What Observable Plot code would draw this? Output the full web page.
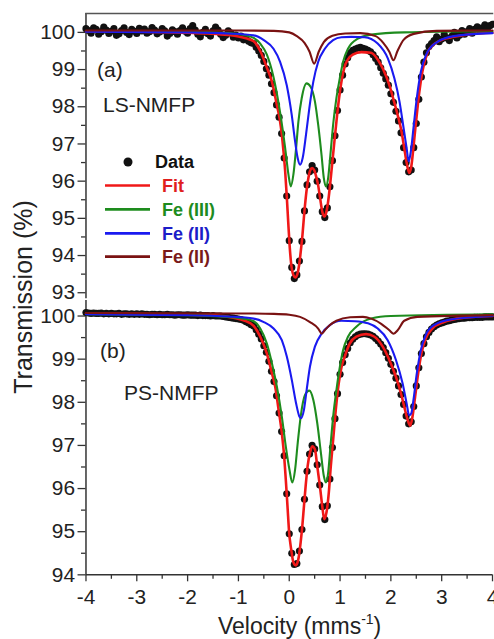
<!DOCTYPE html>
<html><head><meta charset="utf-8">
<script src="https://cdn.jsdelivr.net/npm/d3@7"></script>
<script src="https://cdn.jsdelivr.net/npm/@observablehq/plot@0.6"></script>
<style>
html,body{margin:0;padding:0;background:#fff;overflow:hidden;width:494px;height:639px;}
#wrap{position:relative;width:494px;height:639px;overflow:hidden;font-family:"Liberation Sans",Arial,sans-serif;}
#wrap svg{position:absolute;left:0;}
</style></head><body><div id="wrap"></div>
<script>
// ---------- data ----------
const velocity = [-4.00,-3.95,-3.90,-3.85,-3.80,-3.75,-3.70,-3.65,-3.60,-3.55,-3.50,-3.45,-3.40,-3.35,-3.30,-3.25,-3.20,-3.15,-3.10,-3.05,
-3.00,-2.95,-2.90,-2.85,-2.80,-2.75,-2.70,-2.65,-2.60,-2.55,-2.50,-2.45,-2.40,-2.35,-2.30,-2.25,-2.20,-2.15,-2.10,-2.05,
-2.00,-1.95,-1.90,-1.85,-1.80,-1.75,-1.70,-1.65,-1.60,-1.55,-1.50,-1.45,-1.40,-1.35,-1.30,-1.25,-1.20,-1.15,-1.10,-1.05,
-1.00,-0.95,-0.90,-0.85,-0.80,-0.75,-0.70,-0.65,-0.60,-0.55,-0.50,-0.45,-0.40,-0.35,-0.30,-0.25,-0.20,-0.15,-0.10,-0.05,
0.00,0.05,0.10,0.15,0.20,0.25,0.30,0.35,0.40,0.45,0.50,0.55,0.60,0.65,0.70,0.75,0.80,0.85,0.90,0.95,
1.00,1.05,1.10,1.15,1.20,1.25,1.30,1.35,1.40,1.45,1.50,1.55,1.60,1.65,1.70,1.75,1.80,1.85,1.90,1.95,
2.00,2.05,2.10,2.15,2.20,2.25,2.30,2.35,2.40,2.45,2.50,2.55,2.60,2.65,2.70,2.75,2.80,2.85,2.90,2.95,
3.00,3.05,3.10,3.15,3.20,3.25,3.30,3.35,3.40,3.45,3.50,3.55,3.60,3.65,3.70,3.75,3.80,3.85,3.90,3.95,4.00];

// (a) LS-NMFP measured transmission
const dataLS = [100.10,100.05,99.98,100.12,100.08,99.95,100.02,100.14,100.06,99.97,
100.03,100.10,99.92,99.96,100.05,100.12,100.00,99.94,100.08,100.03,
99.97,100.11,100.04,100.09,99.98,100.02,100.13,100.06,99.96,100.01,
100.10,100.04,99.90,99.97,100.07,100.02,99.95,100.05,100.12,100.03,
99.98,100.10,100.18,100.06,99.95,99.88,100.00,100.08,99.96,99.90,
100.04,100.14,100.06,99.95,99.86,99.92,100.04,99.98,99.87,99.93,
99.85,99.90,99.80,99.84,99.76,99.72,99.70,99.60,99.50,99.38,
99.22,99.02,98.85,98.62,98.38,98.05,97.72,97.28,96.62,95.60,
94.40,93.68,93.38,93.48,93.85,94.38,95.20,95.90,96.25,96.42,
96.30,96.00,95.60,95.18,95.02,95.28,95.85,96.55,97.22,97.90,
98.45,98.85,99.15,99.32,99.45,99.52,99.55,99.58,99.60,99.57,
99.55,99.52,99.48,99.40,99.30,99.20,99.05,98.90,98.75,98.58,
98.35,98.12,97.88,97.62,97.30,96.90,96.50,96.25,96.30,96.90,
97.55,98.20,98.80,99.20,99.45,99.62,99.70,99.78,99.88,99.75,
99.82,99.95,99.85,99.78,99.90,100.00,99.85,99.92,100.05,99.95,
100.02,100.10,99.98,100.08,100.15,100.05,100.12,100.20,100.10,100.18,100.22];

// (b) PS-NMFP measured transmission
const dataPS = [100.08,100.07,100.06,100.07,100.06,100.06,100.07,100.05,100.06,100.05,
100.06,100.05,100.05,100.06,100.04,100.05,100.05,100.04,100.05,100.04,
100.05,100.04,100.05,100.04,100.04,100.03,100.04,100.04,100.03,100.04,
100.03,100.03,100.04,100.03,100.03,100.02,100.03,100.03,100.02,100.02,
100.03,100.02,100.02,100.02,100.01,100.02,100.01,100.01,100.01,100.00,
100.01,100.00,100.00,100.00,99.99,99.98,99.97,99.96,99.95,99.94,
99.93,99.92,99.90,99.87,99.84,99.80,99.77,99.68,99.58,99.47,
99.31,99.16,98.95,98.72,98.48,98.15,97.75,97.32,96.76,95.88,
94.95,94.50,94.24,94.26,94.55,95.05,95.75,96.40,96.80,97.00,
96.92,96.55,96.08,95.58,95.28,95.60,96.22,96.95,97.62,98.20,
98.65,98.92,99.10,99.25,99.38,99.46,99.52,99.56,99.58,99.59,
99.59,99.58,99.56,99.53,99.48,99.42,99.35,99.27,99.15,99.02,
98.88,98.72,98.56,98.38,98.18,97.95,97.68,97.50,97.55,97.90,
98.38,98.80,99.13,99.36,99.52,99.62,99.70,99.75,99.79,99.82,
99.84,99.86,99.88,99.89,99.91,99.92,99.93,99.94,99.95,99.95,
99.96,99.96,99.96,99.97,99.97,99.97,99.97,99.98,99.98,99.98,99.98];

// fitted curves [velocity, transmission]
const fitLS = [[-4,100.03],[-3,100.02],[-2,99.99],[-1.6,99.97],[-1.2,99.93],[-1.0,99.89],[-0.85,99.84],[-0.7,99.76],[-0.57,99.50],[-0.44,99.05],[-0.34,98.67],[-0.244,98.05],[-0.19,97.69],[-0.146,97.25],[-0.113,96.80],[-0.08,96.26],[-0.05,95.62],[-0.02,94.90],[0.01,94.22],[0.04,93.75],[0.08,93.48],[0.12,93.41],[0.16,93.50],[0.2,93.80],[0.23,94.15],[0.26,94.55],[0.29,95.05],[0.33,95.62],[0.375,96.07],[0.41,96.28],[0.45,96.35],[0.49,96.30],[0.53,96.12],[0.57,95.88],[0.61,95.52],[0.65,95.18],[0.69,95.05],[0.72,95.12],[0.76,95.40],[0.8,95.85],[0.84,96.40],[0.88,96.95],[0.93,97.62],[0.98,98.23],[1.03,98.70],[1.09,99.08],[1.16,99.28],[1.25,99.40],[1.42,99.47],[1.61,99.45],[1.75,99.25],[1.85,99.00],[1.97,98.58],[2.05,98.20],[2.12,97.85],[2.2,97.40],[2.26,96.92],[2.31,96.50],[2.36,96.22],[2.4,96.38],[2.44,96.85],[2.48,97.40],[2.52,97.92],[2.56,98.40],[2.62,98.95],[2.72,99.45],[2.85,99.68],[3.0,99.80],[3.24,99.88],[3.56,99.95],[4,99.99]];
const fe3LS = [[-4,100.03],[-2,100.02],[-1.2,99.98],[-0.9,99.93],[-0.7,99.85],[-0.57,99.70],[-0.44,99.40],[-0.31,98.80],[-0.18,97.85],[-0.08,96.89],[-0.016,96.18],[0.03,95.86],[0.082,96.18],[0.135,96.89],[0.18,97.60],[0.245,98.23],[0.34,98.63],[0.42,98.54],[0.506,98.14],[0.57,97.51],[0.635,96.71],[0.68,96.09],[0.72,95.86],[0.766,96.09],[0.81,96.71],[0.863,97.51],[0.928,98.23],[0.994,98.76],[1.06,99.21],[1.156,99.56],[1.35,99.83],[1.61,99.94],[2.26,100.0],[4,100.03]];
const fe2LS = [[-4,100.02],[-2,100.0],[-1.2,99.97],[-0.7,99.92],[-0.5,99.79],[-0.31,99.56],[-0.18,99.21],[-0.049,98.58],[0.049,97.78],[0.115,97.07],[0.166,96.62],[0.213,96.44],[0.264,96.62],[0.33,97.25],[0.395,97.96],[0.473,98.67],[0.57,99.21],[0.70,99.56],[0.863,99.79],[1.026,99.87],[1.22,99.88],[1.48,99.87],[1.74,99.70],[1.94,99.30],[2.07,98.76],[2.17,98.14],[2.25,97.43],[2.31,96.89],[2.35,96.53],[2.393,96.80],[2.445,97.43],[2.51,98.23],[2.59,98.94],[2.69,99.39],[2.91,99.74],[3.24,99.90],[4,99.98]];
const fe2bLS = [[-4,100.05],[-1,100.05],[-0.3,100.04],[0,100.0],[0.15,99.90],[0.3,99.72],[0.4,99.48],[0.49,99.16],[0.58,99.48],[0.68,99.74],[0.85,99.91],[1.1,99.97],[1.4,99.98],[1.7,99.90],[1.85,99.72],[1.97,99.48],[2.05,99.25],[2.13,99.50],[2.25,99.80],[2.45,99.96],[2.9,100.04],[4,100.05]];

const fitPS = [[-4,100.06],[-3,100.05],[-2,100.03],[-1.4,100.01],[-1.1,99.96],[-0.875,99.89],[-0.7,99.77],[-0.57,99.52],[-0.44,99.13],[-0.34,98.67],[-0.276,98.36],[-0.21,97.83],[-0.146,97.29],[-0.10,96.75],[-0.068,96.21],[-0.035,95.60],[-0.002,94.98],[0.037,94.60],[0.082,94.29],[0.128,94.22],[0.18,94.37],[0.225,94.76],[0.258,95.14],[0.29,95.60],[0.323,96.06],[0.362,96.52],[0.408,96.83],[0.453,96.98],[0.505,96.91],[0.551,96.52],[0.603,96.06],[0.649,95.60],[0.688,95.29],[0.733,95.45],[0.779,95.91],[0.818,96.52],[0.864,97.13],[0.916,97.83],[0.974,98.44],[1.026,98.80],[1.09,99.05],[1.19,99.36],[1.32,99.52],[1.514,99.58],[1.677,99.52],[1.84,99.29],[1.97,98.98],[2.1,98.59],[2.198,98.21],[2.263,97.90],[2.328,97.60],[2.38,97.46],[2.426,97.67],[2.478,98.14],[2.537,98.67],[2.6,99.13],[2.686,99.48],[2.816,99.71],[3.044,99.86],[3.435,99.96],[4,100.0]];
const fe3PS = [[-4,100.04],[-2,100.02],[-1.2,99.98],[-0.9,99.94],[-0.7,99.88],[-0.57,99.71],[-0.44,99.36],[-0.34,98.90],[-0.243,98.36],[-0.146,97.67],[-0.068,96.98],[0.004,96.44],[0.06,96.14],[0.115,96.44],[0.167,97.06],[0.225,97.67],[0.31,98.17],[0.395,98.27],[0.473,98.06],[0.551,97.52],[0.623,96.83],[0.681,96.29],[0.72,96.14],[0.766,96.37],[0.811,96.98],[0.864,97.67],[0.929,98.29],[1.0,98.85],[1.06,99.21],[1.156,99.52],[1.32,99.75],[1.612,99.94],[2.0,100.0],[4,100.04]];
const fe2PS = [[-4,100.04],[-2,100.02],[-1.2,99.99],[-0.7,99.94],[-0.5,99.86],[-0.308,99.71],[-0.146,99.44],[-0.048,99.06],[0.05,98.52],[0.134,97.98],[0.2,97.67],[0.23,97.63],[0.29,97.83],[0.343,98.29],[0.408,98.83],[0.505,99.29],[0.636,99.59],[0.8,99.79],[1.026,99.89],[1.29,99.88],[1.55,99.83],[1.742,99.71],[1.937,99.44],[2.1,98.98],[2.23,98.44],[2.309,97.98],[2.36,97.70],[2.40,97.74],[2.445,98.06],[2.51,98.67],[2.589,99.21],[2.686,99.56],[2.849,99.79],[3.175,99.92],[4,100.0]];
const fe2bPS = [[-4,100.07],[-1,100.06],[-0.3,100.05],[0,100.03],[0.212,99.98],[0.408,99.86],[0.57,99.71],[0.64,99.59],[0.70,99.67],[0.80,99.79],[0.929,99.89],[1.2,99.97],[1.45,99.98],[1.612,99.94],[1.81,99.82],[1.97,99.67],[2.055,99.59],[2.133,99.67],[2.263,99.89],[2.52,99.98],[4,100.02]];

// ticks
const xTicks = [-4,-3,-2,-1,0,1,2,3,4];
const xMinor = [-3.5,-2.5,-1.5,-0.5,0.5,1.5,2.5,3.5];
const yTicksA = [93,94,95,96,97,98,99,100];
const yMinorA = [93.5,94.5,95.5,96.5,97.5,98.5,99.5];
const yTicksB = [94,95,96,97,98,99,100];
const yMinorB = [94.5,95.5,96.5,97.5,98.5,99.5];

const legendLabels = ["Data","Fit","Fe (III)","Fe (II)","Fe (II)"];
const colors = {data:"#111111", fit:"#f01818", fe3:"#1e8c1e", fe2:"#1a1af0", fe2b:"#7a1212"};
const textColors = ["#111111","#e01e1e","#1e8c1e","#1c1cc8","#7a1a1a"];

// ---------- drawing ----------
const wrap = document.getElementById("wrap");
const axisColor = "#333";
const font = "Liberation Sans, Arial, sans-serif";

function panel(dataT, fit, fe3, fe2, fe2b, yDomain, yTicks, yMinor, opts) {
  const pts = velocity.map((v, i) => ({v, t: dataT[i]}));
  const toObj = a => a.map(([v, t]) => ({v, t}));
  const marks = [
    Plot.axisY({ticks: yTicks, tickSize: 8, tickPadding: 3, fontSize: 21, label: null, stroke: axisColor, strokeWidth: 1.3, fill: "#222", tickFormat: d => String(d)}),
    Plot.axisY({ticks: yMinor, tickSize: 4.5, text: null, label: null, stroke: axisColor, strokeWidth: 1.3}),
    Plot.ruleX([-4], {stroke: axisColor, strokeWidth: 1.5}),
    Plot.dot(pts, {x: "v", y: "t", r: 3.6, fill: colors.data, stroke: "none"}),
    Plot.line(toObj(fit), {x: "v", y: "t", stroke: colors.fit, strokeWidth: 2.6, curve: "monotone-x"}),
    Plot.line(toObj(fe3), {x: "v", y: "t", stroke: colors.fe3, strokeWidth: 2.1, curve: "monotone-x"}),
    Plot.line(toObj(fe2), {x: "v", y: "t", stroke: colors.fe2, strokeWidth: 2.1, curve: "monotone-x"}),
    Plot.line(toObj(fe2b), {x: "v", y: "t", stroke: colors.fe2b, strokeWidth: 2.1, curve: "monotone-x"})
  ];
  if (opts.top) marks.push(Plot.frame({anchor: "top", stroke: "#555", strokeWidth: 1.5}));
  if (opts.xaxis) {
    marks.push(Plot.ruleY([yDomain[0]], {stroke: axisColor, strokeWidth: 1.5}));
    marks.push(Plot.axisX({ticks: xTicks, tickSize: 7, tickPadding: 7, fontSize: 21, label: null, stroke: axisColor, strokeWidth: 1.3, fill: "#222", tickFormat: d => String(d)}));
    marks.push(Plot.axisX({ticks: xMinor, tickSize: 4.5, text: null, label: null, stroke: axisColor, strokeWidth: 1.3}));
  }
  return Plot.plot({
    width: 497, height: opts.height,
    marginLeft: 86, marginRight: 2, marginTop: opts.mt, marginBottom: opts.mb,
    x: opts.xaxis ? {domain: [-4, 4]} : {domain: [-4, 4], axis: null},
    y: {domain: yDomain},
    style: {fontFamily: font, background: "transparent", overflow: "visible"},
    marks
  });
}

const svgA = panel(dataLS, fitLS, fe3LS, fe2LS, fe2bLS, [92.84, 100.51], yTicksA, yMinorA, {height: 300, mt: 13, mb: 0, top: true});
svgA.style.top = "0px";
const svgB = panel(dataPS, fitPS, fe3PS, fe2PS, fe2bPS, [94, 100.36], yTicksB, yMinorB, {height: 339, mt: 0, mb: 63, xaxis: true});
svgB.style.top = "300px";
wrap.appendChild(svgB);
wrap.appendChild(svgA);

// ---------- annotations, legend, titles ----------
const ov = d3.create("svg").attr("width", 494).attr("height", 639)
  .style("top", "0px").style("pointer-events", "none").style("font-family", font);

ov.append("text").attr("x", 97).attr("y", 77).attr("font-size", 21).attr("fill", "#222").text("(a)");
ov.append("text").attr("x", 103).attr("y", 112).attr("font-size", 21).attr("fill", "#222").text("LS-NMFP");
ov.append("text").attr("x", 100).attr("y", 358).attr("font-size", 21).attr("fill", "#222").text("(b)");
ov.append("text").attr("x", 124).attr("y", 400).attr("font-size", 21).attr("fill", "#222").text("PS-NMFP");

// legend
ov.append("circle").attr("cx", 128).attr("cy", 162).attr("r", 4.5).attr("fill", colors.data);
ov.append("text").attr("x", 155).attr("y", 168).attr("font-size", 18).attr("font-weight", "bold").attr("fill", textColors[0]).text(legendLabels[0]);
const legLines = [[185.5, colors.fit], [209.3, colors.fe3], [233.3, colors.fe2], [256.7, colors.fe2b]];
legLines.forEach(([y, c], i) => {
  ov.append("line").attr("x1", 105).attr("x2", 150).attr("y1", y).attr("y2", y).attr("stroke", c).attr("stroke-width", 2.7);
  ov.append("text").attr("x", 162).attr("y", y + 6.6).attr("font-size", 18).attr("font-weight", "bold").attr("fill", textColors[i + 1]).text(legendLabels[i + 1]);
});

// axis titles
const xt = ov.append("text").attr("x", 218).attr("y", 634).attr("font-size", 23).attr("fill", "#222");
xt.append("tspan").text("Velocity (mms");
xt.append("tspan").attr("font-size", 14).attr("dy", -10).text("-1");
xt.append("tspan").attr("dy", 10).text(")");

ov.append("text").attr("transform", "translate(32,297) rotate(-90)").attr("text-anchor", "middle")
  .attr("font-size", 25).attr("fill", "#222").text("Transmission (%)");

wrap.appendChild(ov.node());
</script></body></html>
